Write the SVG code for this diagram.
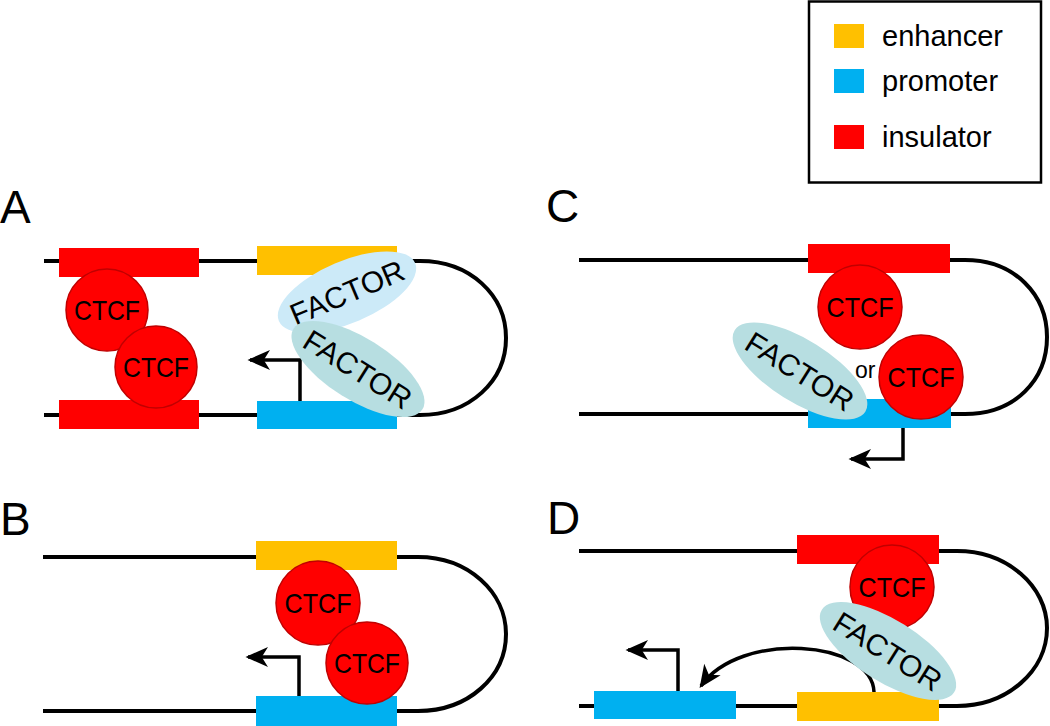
<svg xmlns="http://www.w3.org/2000/svg" width="1050" height="726" viewBox="0 0 1050 726">
<style>
text{font-family:"Liberation Sans",Arial,sans-serif;fill:#000}
.lbl{font-size:46px}
.leg{font-size:29px}
.ct{font-size:28px;text-anchor:middle}
.fa{font-size:30px;text-anchor:middle}
.dna{stroke:#000;stroke-width:4;fill:none}
.arr{stroke:#000;stroke-width:3.5;fill:none}
.ins{fill:#FF0000}
.enh{fill:#FFC000}
.pro{fill:#00B0F0}
.ctcf{fill:#FF0000;stroke:#C00000;stroke-width:1.5}
.f1{fill:#CCEAF8}
.f2{fill:#B7DEE1}
</style>
<defs>
<marker id="ah" markerUnits="userSpaceOnUse" markerWidth="30" markerHeight="30" refX="0" refY="0" viewBox="-20 -10 24 20" orient="auto" overflow="visible">
<path d="M2,0 L-16,-8 L-11,0 L-16,8 Z" fill="#000"/>
</marker>
</defs>

<g id="legend">
<rect x="809" y="1.5" width="232" height="181" fill="#fff" stroke="#000" stroke-width="2.5"/>
<rect class="enh" x="834" y="24" width="30" height="24"/>
<rect class="pro" x="834" y="69" width="30" height="24"/>
<rect class="ins" x="834" y="125" width="30" height="24"/>
<text class="leg" x="882" y="46">enhancer</text>
<text class="leg" x="882" y="91">promoter</text>
<text class="leg" x="882" y="147">insulator</text>
</g>

<g id="labels">
<text class="lbl" x="0" y="223">A</text>
<text class="lbl" x="546" y="222">C</text>
<text class="lbl" x="0" y="535">B</text>
<text class="lbl" x="547" y="534">D</text>
</g>

<g id="dna">
<path class="dna" d="M44,261 H257 M44,415 H257 M397,261 H420 C470,261 506,295 506,338 C506,381 470,415 420,415 H397"/>
<path class="dna" d="M579,260 H808 M579,414 H808 M950,260 H965 C1015,260 1047,295 1047,337 C1047,380 1015,414 965,414 H950"/>
<path class="dna" d="M43,557 H256 M43,711 H256 M397,557 H418 C468,557 506,592 506,634 C506,677 468,711 418,711 H397"/>
<path class="dna" d="M579,551 H797 M579,706 H797 M939,551 H957 C1007,551 1047,586 1047,628 C1047,671 1007,706 957,706 H939"/>
</g>

<g id="connectors">
<path class="arr" d="M300,401 V360 H250" marker-end="url(#ah)"/>
<path class="arr" d="M903,428 V459 H851" marker-end="url(#ah)"/>
<path class="arr" d="M299,696 V657 H248" marker-end="url(#ah)"/>
<path class="arr" d="M678,691 V650 H628" marker-end="url(#ah)"/>
<path class="arr" d="M874,692 C872,640 740,630 701,686" marker-end="url(#ah)"/>
</g>

<g id="panelA">
<g id="A-insulator-top"><rect class="ins" x="59" y="248" width="140" height="29"/></g>
<g id="A-insulator-bottom"><rect class="ins" x="59" y="400" width="140" height="29"/></g>
<g id="A-enhancer"><rect class="enh" x="257" y="246" width="140" height="29"/></g>
<g id="A-promoter"><rect class="pro" x="257" y="401" width="140" height="28"/></g>
<g id="A-ctcf1"><circle class="ctcf" cx="107" cy="310" r="41"/><text class="ct" x="107" y="320" textLength="66" lengthAdjust="spacingAndGlyphs">CTCF</text></g>
<g id="A-ctcf2"><circle class="ctcf" cx="156" cy="367" r="41"/><text class="ct" x="156" y="377" textLength="66" lengthAdjust="spacingAndGlyphs">CTCF</text></g>
<g id="A-factor1" transform="translate(347,292) rotate(-23)"><ellipse class="f1" cx="0" cy="0" rx="74" ry="31"/><text class="fa" x="0" y="11">FACTOR</text></g>
<g id="A-factor2" transform="translate(358,369) rotate(32)"><ellipse class="f2" cx="0" cy="0" rx="76" ry="31"/><text class="fa" x="0" y="11">FACTOR</text></g>
</g>

<g id="panelC">
<g id="C-insulator"><rect class="ins" x="808" y="244" width="142" height="29"/></g>
<g id="C-promoter"><rect class="pro" x="808" y="399" width="143" height="29"/></g>
<g id="C-ctcf1"><circle class="ctcf" cx="860" cy="307" r="42"/><text class="ct" x="860" y="317" textLength="67" lengthAdjust="spacingAndGlyphs">CTCF</text></g>
<g id="C-ctcf2"><circle class="ctcf" cx="921" cy="377" r="42"/><text class="ct" x="921" y="387" textLength="67" lengthAdjust="spacingAndGlyphs">CTCF</text></g>
<g id="C-or"><text x="855" y="378" style="font-size:23px">or</text></g>
<g id="C-factor" transform="translate(800,371) rotate(32)"><ellipse class="f2" cx="0" cy="0" rx="77" ry="31"/><text class="fa" x="0" y="11">FACTOR</text></g>
</g>

<g id="panelB">
<g id="B-enhancer"><rect class="enh" x="256" y="541" width="141" height="29"/></g>
<g id="B-promoter"><rect class="pro" x="256" y="696" width="141" height="30"/></g>
<g id="B-ctcf1"><circle class="ctcf" cx="318" cy="603" r="42"/><text class="ct" x="318" y="613" textLength="67" lengthAdjust="spacingAndGlyphs">CTCF</text></g>
<g id="B-ctcf2"><circle class="ctcf" cx="367" cy="663" r="41"/><text class="ct" x="367" y="673" textLength="66" lengthAdjust="spacingAndGlyphs">CTCF</text></g>
</g>

<g id="panelD">
<g id="D-insulator"><rect class="ins" x="797" y="535" width="142" height="29"/></g>
<g id="D-promoter"><rect class="pro" x="594" y="691" width="142" height="28"/></g>
<g id="D-enhancer"><rect class="enh" x="797" y="692" width="142" height="29"/></g>
<g id="D-ctcf"><circle class="ctcf" cx="892" cy="587" r="42"/><text class="ct" x="892" y="597" textLength="67" lengthAdjust="spacingAndGlyphs">CTCF</text></g>
<g id="D-factor" transform="translate(888,651) rotate(32)"><ellipse class="f2" cx="0" cy="0" rx="78" ry="31"/><text class="fa" x="0" y="11">FACTOR</text></g>
</g>
</svg>
